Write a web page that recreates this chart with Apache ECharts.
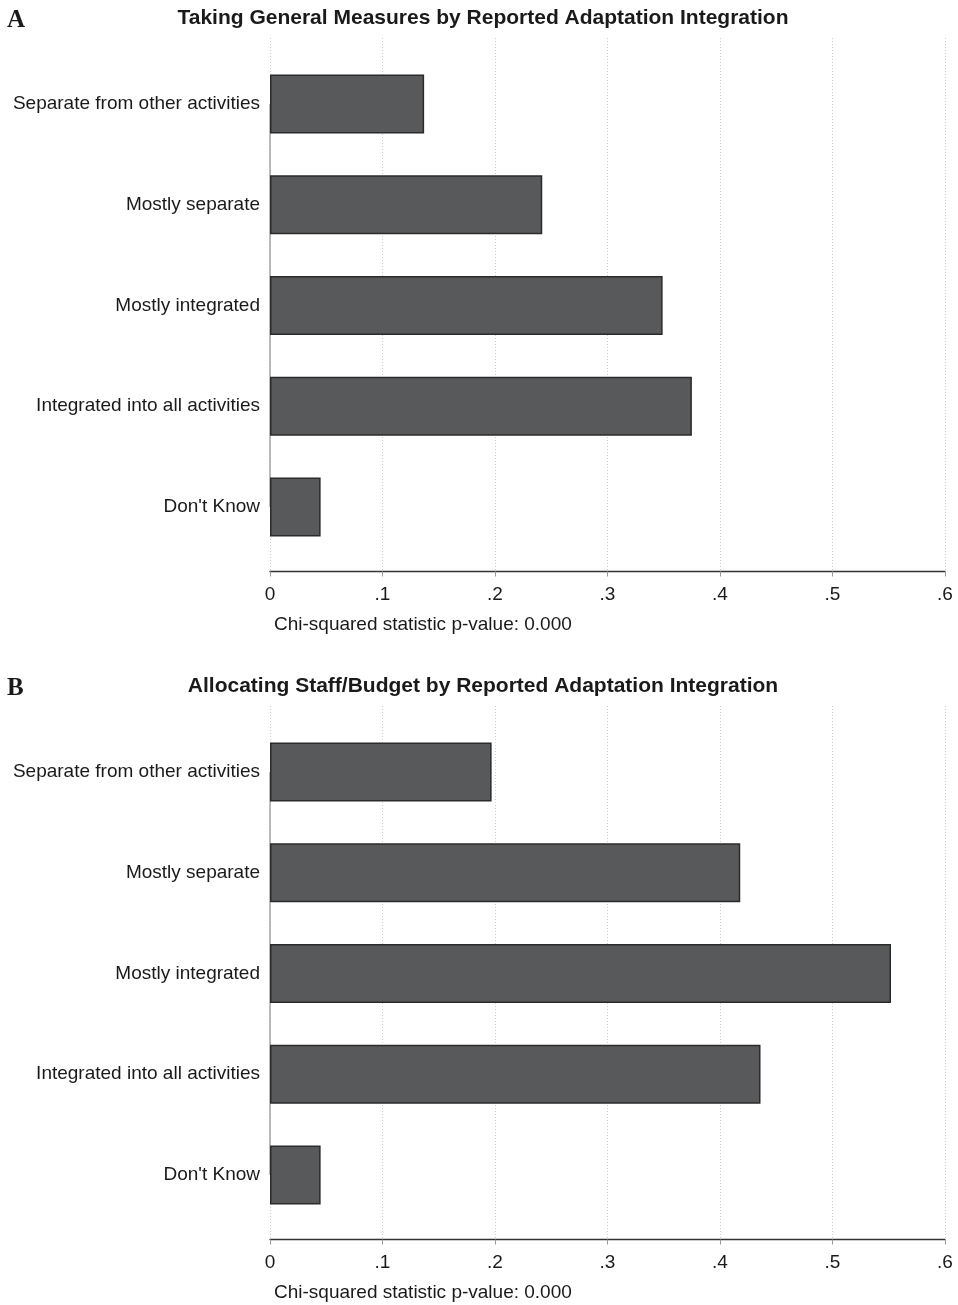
<!DOCTYPE html>
<html>
<head>
<meta charset="utf-8">
<script src="https://cdn.jsdelivr.net/npm/echarts@6/dist/echarts.min.js"></script>
<style>
html,body{margin:0;padding:0;background:#fff;}
#chart{width:958px;height:1305px;}
</style>
</head>
<body>
<div id="chart"></div>
<script>
// ---- data ----
const categories = ['Separate from other activities', 'Mostly separate', 'Mostly integrated', 'Integrated into all activities', "Don't Know"];
const valuesA = [0.137, 0.242, 0.349, 0.375, 0.045];
const valuesB = [0.197, 0.418, 0.552, 0.436, 0.045];
const xTickValues = [0, 0.1, 0.2, 0.3, 0.4, 0.5, 0.6];
const xTickLabels = ['0', '.1', '.2', '.3', '.4', '.5', '.6'];
const panelTitles = ['Taking General Measures by Reported Adaptation Integration', 'Allocating Staff/Budget by Reported Adaptation Integration'];
const panelLetters = ['A', 'B'];
const panelNotes = ['Chi-squared statistic p-value: 0.000', 'Chi-squared statistic p-value: 0.000'];
const panelValues = [valuesA, valuesB];

// ---- layout ----
const FONT = '"Liberation Sans", Arial, Helvetica, sans-serif';
const PANEL_OFFSET = 668;
const PLOT_LEFT = 270, PLOT_WIDTH = 675;

const chart = echarts.init(document.getElementById('chart'), null, {renderer: 'canvas'});

const grids = [], xAxes = [], yAxes = [], series = [], graphics = [];

panelValues.forEach((vals, i) => {
  const o = i * PANEL_OFFSET;
  const gBar = grids.length;
  grids.push({left: PLOT_LEFT, width: PLOT_WIDTH, top: 53.5 + o, height: 503.75, containLabel: false});
  const gAxis = grids.length;
  grids.push({left: PLOT_LEFT, width: PLOT_WIDTH, top: 38 + o, height: 533.5, containLabel: false});

  // bar grid axes
  xAxes.push({gridIndex: gBar, type: 'value', min: 0, max: 0.6, interval: 0.1,
    axisLine: {show: false}, axisTick: {show: false}, axisLabel: {show: false}, splitLine: {show: false}});
  yAxes.push({gridIndex: gBar, type: 'category', data: categories, inverse: true,
    axisLine: {show: false}, axisTick: {show: false}, splitLine: {show: false},
    axisLabel: {color: '#1a1a1a', fontFamily: FONT, fontSize: 19, margin: 10}});

  // axis grid (gridlines + x axis)
  xAxes.push({gridIndex: gAxis, type: 'value', min: 0, max: 0.6, interval: 0.1,
    axisLine: {show: true, lineStyle: {color: '#333', width: 1.3}},
    axisTick: {show: true, length: 5, lineStyle: {color: '#999', width: 1}},
    axisLabel: {color: '#1a1a1a', fontFamily: FONT, fontSize: 19, margin: 14,
      formatter: v => { const k = xTickValues.findIndex(t => Math.abs(t - v) < 1e-9); return k >= 0 ? xTickLabels[k] : ''; }},
    splitLine: {show: true, lineStyle: {color: '#cfcfcf', width: 1, type: [1, 2]}}});
  yAxes.push({gridIndex: gAxis, type: 'value', min: 0, max: 1, show: false});

  series.push({
    type: 'bar', xAxisIndex: gBar, yAxisIndex: gBar, data: vals, barWidth: 59,
    itemStyle: {color: '#58595b', borderColor: '#2b2b2b', borderWidth: 1.5},
    silent: true, z: 3,
    markLine: {silent: true, symbol: 'none', label: {show: false}, z: 2,
      lineStyle: {color: '#a6a6a6', width: 1.5, type: 'solid'},
      data: [[{coord: [0, categories[0]]}, {coord: [0, categories[categories.length - 1]]}]]}
  });

  graphics.push({type: 'text', left: 7, top: 8 + o,
    style: {text: panelLetters[i], font: 'bold 25px "Liberation Serif", "DejaVu Serif", serif', fill: '#1a1a1a'}});
  graphics.push({type: 'text', x: 483, y: 18 + o,
    style: {text: panelTitles[i], font: 'bold 21px ' + FONT, fill: '#1a1a1a', textAlign: 'center', textVerticalAlign: 'middle'}});
  graphics.push({type: 'text', x: 274, y: 625 + o,
    style: {text: panelNotes[i], font: '19px ' + FONT, fill: '#1a1a1a', textAlign: 'left', textVerticalAlign: 'middle'}});
});

chart.setOption({
  backgroundColor: '#fff',
  animation: false,
  grid: grids,
  xAxis: xAxes,
  yAxis: yAxes,
  series: series,
  graphic: graphics
});
</script>
</body>
</html>
